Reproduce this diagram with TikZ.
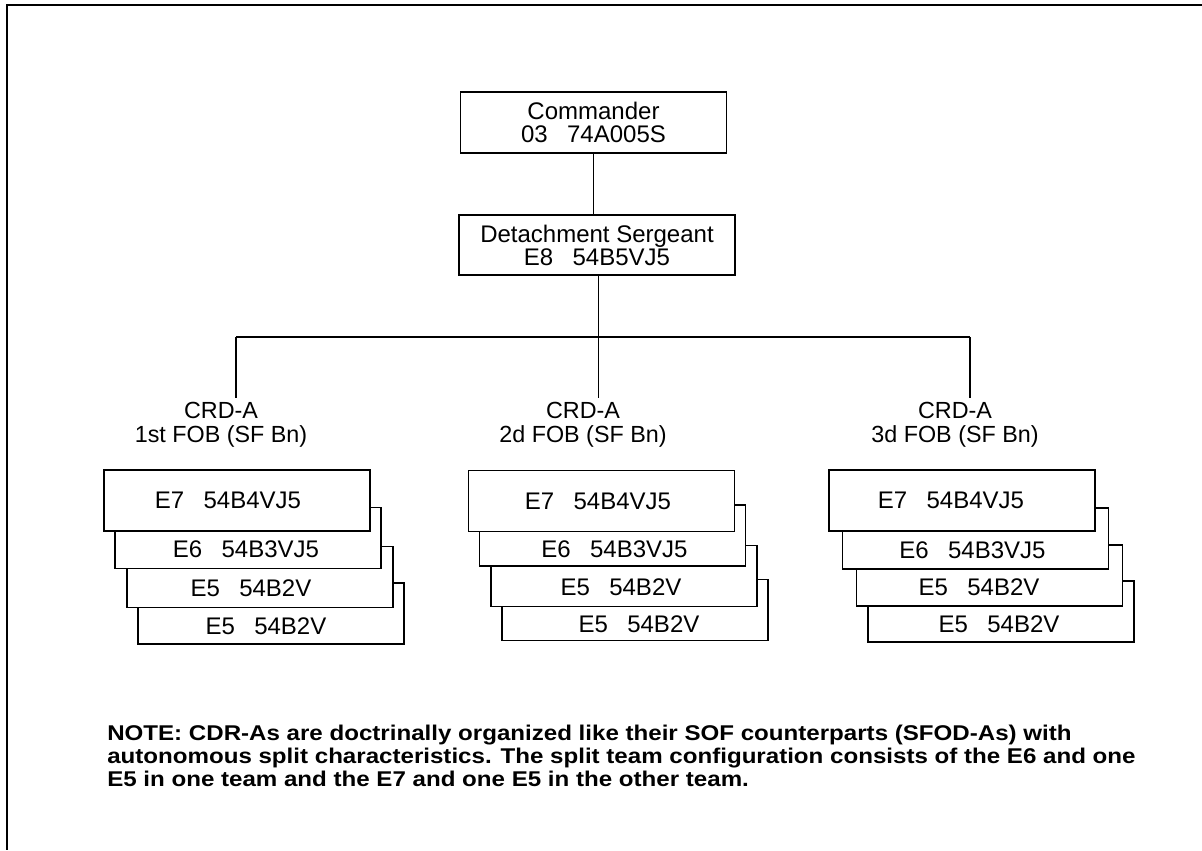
\documentclass[tikz,border=0pt]{standalone}
\usepackage{fontspec}
\setmainfont{Liberation Sans}
\newfontfamily\notefont[FakeStretch=1.13]{Liberation Sans}
\newcommand{\gp}{\hspace{14.5pt}}
\begin{document}
\begin{tikzpicture}[x=0.75pt,y=-0.75pt,
  frame/.style={line width=1.7pt},
  conn/.style={line width=1.3pt},
  topbox/.style={draw,line width=1.3pt,align=center,inner sep=0pt,
    font=\fontsize{18}{17.25}\selectfont},
  mbox/.style={draw,line width=1.3pt,fill=white,minimum width=199.5pt,
    minimum height=45.75pt,inner sep=0pt},
  mtext/.style={inner sep=0pt,font=\fontsize{18}{17.25}\selectfont},
  lab/.style={inner sep=0pt,align=center,font=\fontsize{17.5}{18}\selectfont},
  note/.style={inner sep=0pt,align=left,anchor=base west,
    font=\notefont\fontsize{16}{17.25}\selectfont\bfseries}]
\useasboundingbox (0,0) rectangle (1202,850);
\draw[frame] (1202,5) -- (7,5) -- (7,850);

% top boxes
\node[topbox,minimum width=199.5pt,minimum height=45.75pt] (cmd) at (593.5,122.5)
  {Commander\\03\gp 74A005S};
\node[topbox,minimum width=207pt,minimum height=45pt] (ds) at (597,245)
  {Detachment Sergeant\\E8\gp 54B5VJ5};
\draw[conn] (cmd.south) -- (cmd.south |- ds.north);

% bus
\coordinate (bus1) at (236,337);
\coordinate (bus2) at (598.5,337);
\coordinate (bus3) at (970,337);
\coordinate (d1) at (236,398);
\coordinate (d2) at (598.5,398);
\coordinate (d3) at (970,398);
\coordinate (dsb) at (598.5,275);
\draw[conn] (dsb) -- (bus2);
\draw[conn] (bus1) -- (bus3);
\draw[conn] (bus1) -- (d1);
\draw[conn] (bus2) -- (d2);
\draw[conn] (bus3) -- (d3);

% labels
\node[lab] (l1) at (221,425) {CRD-A\\1st FOB (SF Bn)};
\node[lab] (l2) at (583,425) {CRD-A\\2d FOB (SF Bn)};
\node[lab] (l3) at (955,425) {CRD-A\\3d FOB (SF Bn)};

% stack 1
\node[mbox] (a4) at (271,613.5) {};
\node[mbox] (a3) at (260,577) {};
\node[mbox] (a2) at (248,538) {};
\node[mbox] (a1) at (237,500.5) {};
\node[mtext] (ta1) at (228,500.5) {E7\gp 54B4VJ5};
\node[mtext] (ta2) at (246,549.5) {E6\gp 54B3VJ5};
\node[mtext] (ta3) at (251,588) {E5\gp 54B2V};
\node[mtext] (ta4) at (266,626) {E5\gp 54B2V};

% stack 2
\node[mbox] (b4) at (635,610) {};
\node[mbox] (b3) at (624,576) {};
\node[mbox] (b2) at (612.5,535.5) {};
\node[mbox] (b1) at (601.5,501) {};
\node[mtext] (tb1) at (598,501) {E7\gp 54B4VJ5};
\node[mtext] (tb2) at (614.5,549) {E6\gp 54B3VJ5};
\node[mtext] (tb3) at (621,587) {E5\gp 54B2V};
\node[mtext] (tb4) at (639,624) {E5\gp 54B2V};

% stack 3
\node[mbox] (c4) at (1001,611.5) {};
\node[mbox] (c3) at (989.5,575.5) {};
\node[mbox] (c2) at (975.5,538.5) {};
\node[mbox] (c1) at (962,500.5) {};
\node[mtext] (tc1) at (951,500.5) {E7\gp 54B4VJ5};
\node[mtext] (tc2) at (972.5,550) {E6\gp 54B3VJ5};
\node[mtext] (tc3) at (979,587.5) {E5\gp 54B2V};
\node[mtext] (tc4) at (999,624) {E5\gp 54B2V};

% note
\node[note] (nt) at (107,786) {NOTE: CDR-As are doctrinally organized like their SOF counterparts (SFOD-As) with\\autonomous split characteristics. The split team configuration consists of the E6 and one\\E5 in one team and the E7 and one E5 in the other team.};
\end{tikzpicture}
\end{document}
